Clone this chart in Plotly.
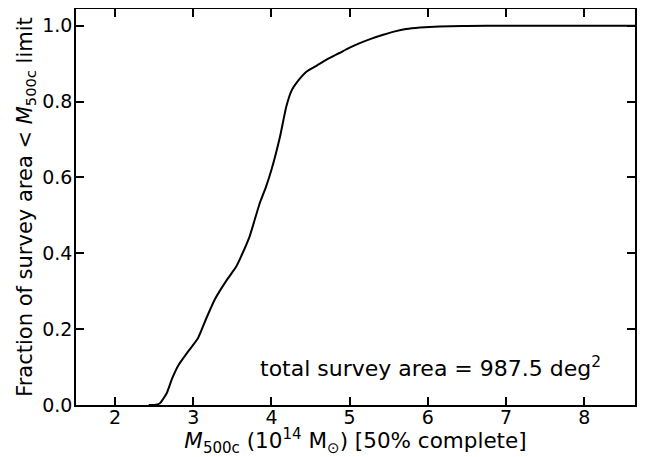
import plotly.graph_objects as go

mass = [2.43, 2.50, 2.57, 2.66, 2.73, 2.81, 2.93, 3.06, 3.17, 3.28, 3.43, 3.55, 3.63, 3.72, 3.85, 3.93, 4.00, 4.11, 4.19, 4.26, 4.32, 4.45, 4.58, 4.70, 4.87, 5.00, 5.13, 5.28, 5.43, 5.58, 5.72, 5.90, 6.15, 6.50, 7.00, 8.00, 8.65]
frac = [0.0, 0.0, 0.004, 0.031, 0.07, 0.105, 0.14, 0.176, 0.23, 0.28, 0.33, 0.365, 0.40, 0.444, 0.532, 0.575, 0.62, 0.708, 0.787, 0.83, 0.849, 0.879, 0.895, 0.91, 0.928, 0.942, 0.954, 0.966, 0.976, 0.985, 0.991, 0.995, 0.998, 0.999, 1.0, 1.0, 1.0]

x_ticks = [2, 3, 4, 5, 6, 7, 8]
y_ticks = [0.0, 0.2, 0.4, 0.6, 0.8, 1.0]

font = "DejaVu Sans"

fig = go.Figure()
fig.add_trace(go.Scatter(x=mass, y=frac, mode="lines",
                         line=dict(color="black", width=2, shape="spline", smoothing=0.5),
                         showlegend=False, hoverinfo="skip"))

fig.add_annotation(x=0.943, y=0.095, xref="paper", yref="paper",
                   text="total survey area = 987.5 deg<sup>2</sup>",
                   showarrow=False, xanchor="right", yanchor="middle",
                   font=dict(family=font, size=22, color="black"))

axis_common = dict(showline=True, linecolor="black", linewidth=1.6, mirror="ticks",
                   ticks="inside", ticklen=8, tickwidth=1.6, tickcolor="black",
                   showgrid=False, zeroline=False, automargin=False,
                   tickfont=dict(family=font, size=19, color="black"))

# page body has an 8px default margin, so the figure is sized/offset to compensate
fig.update_layout(
    width=637, height=449,
    margin=dict(l=68, r=10, t=1, b=52),
    paper_bgcolor="white", plot_bgcolor="white",
    xaxis=dict(range=[1.5, 8.65], tickvals=x_ticks, ticklabelstandoff=-6,
               title=dict(text="<i>M</i><sub>500c</sub> (10<sup>14</sup> M<sub>⊙</sub>) [50% complete]",
                          font=dict(family=font, size=21.5, color="black"), standoff=2),
               **axis_common),
    yaxis=dict(range=[0, 1.044], tickvals=y_ticks, tickformat=".1f", ticklabelstandoff=-2,
               title=dict(text="Fraction of survey area < <i>M</i><sub>500c</sub> limit",
                          font=dict(family=font, size=21, color="black"), standoff=4),
               **axis_common),
)

fig.write_html("out.html")
